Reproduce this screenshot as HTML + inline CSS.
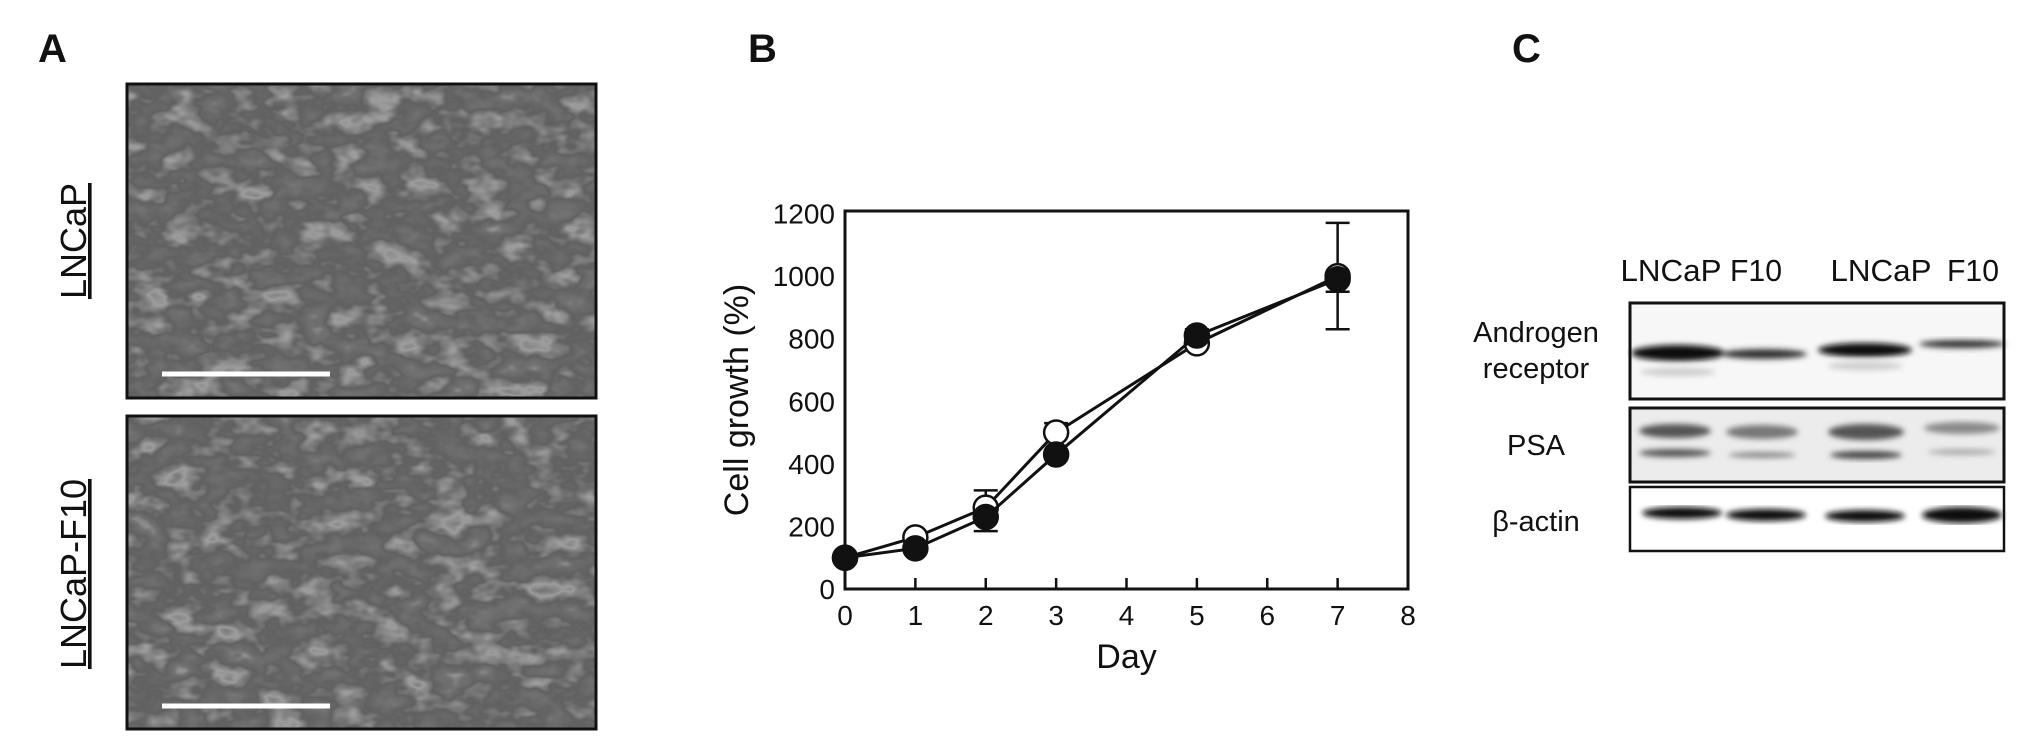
<!DOCTYPE html>
<html><head><meta charset="utf-8"><style>
html,body{margin:0;padding:0;background:#fff}
svg{display:block}
text{font-family:"Liberation Sans",Arial,sans-serif;fill:#111}
</style></head><body>
<svg id="fig" width="2031" height="756" viewBox="0 0 2031 756" xmlns="http://www.w3.org/2000/svg">
<defs>
<filter id="cells" x="0" y="0" width="100%" height="100%" color-interpolation-filters="sRGB">
<feTurbulence type="fractalNoise" baseFrequency="0.03 0.045" numOctaves="3" seed="4" result="n"/>
<feColorMatrix type="matrix" in="n" result="g" values="0.33 0.33 0.33 0 0  0.33 0.33 0.33 0 0  0.33 0.33 0.33 0 0  0 0 0 0 1"/>
<feComponentTransfer in="g"><feFuncR type="table" tableValues="0.25 0.42 0.62 0.38 0.45 0.7 0.4"/><feFuncG type="table" tableValues="0.25 0.42 0.62 0.38 0.45 0.7 0.4"/><feFuncB type="table" tableValues="0.25 0.42 0.62 0.38 0.45 0.7 0.4"/></feComponentTransfer>
</filter>
<filter id="blur"><feGaussianBlur stdDeviation="3"/></filter>
</defs>

<!-- Panel A -->
<text x="38" y="62" font-size="40" font-weight="bold">A</text>
<g>
<rect x="127" y="84" width="469" height="314" fill="#6f6f6f" filter="url(#cells)"/>
<rect x="127" y="84" width="469" height="314" fill="none" stroke="#111" stroke-width="3"/>
<line x1="162" y1="374" x2="330" y2="374" stroke="#fff" stroke-width="5"/>
</g>
<g>
<rect x="127" y="416" width="469" height="313" fill="#6f6f6f" filter="url(#cells)"/>
<rect x="127" y="416" width="469" height="313" fill="none" stroke="#111" stroke-width="3"/>
<line x1="162" y1="706" x2="330" y2="706" stroke="#fff" stroke-width="5"/>
</g>
<text transform="translate(86,241) rotate(-90)" text-anchor="middle" font-size="36" text-decoration="underline">LNCaP</text>
<text transform="translate(86,574) rotate(-90)" text-anchor="middle" font-size="36" text-decoration="underline">LNCaP-F10</text>

<!-- Panel B -->
<text x="748" y="62" font-size="40" font-weight="bold">B</text>
<g id="chart"></g>

<!-- Panel C -->
<text x="1512" y="62" font-size="40" font-weight="bold">C</text>
<g>
<text x="1671" y="281" text-anchor="middle" font-size="31" textLength="101" lengthAdjust="spacingAndGlyphs">LNCaP</text>
<text x="1756" y="281" text-anchor="middle" font-size="31" textLength="52" lengthAdjust="spacingAndGlyphs">F10</text>
<text x="1881" y="281" text-anchor="middle" font-size="31" textLength="101" lengthAdjust="spacingAndGlyphs">LNCaP</text>
<text x="1973" y="281" text-anchor="middle" font-size="31" textLength="52" lengthAdjust="spacingAndGlyphs">F10</text>
<text x="1536" y="342" text-anchor="middle" font-size="29">Androgen</text>
<text x="1536" y="378" text-anchor="middle" font-size="29">receptor</text>
<text x="1536" y="455" text-anchor="middle" font-size="29">PSA</text>
<text x="1536" y="531" text-anchor="middle" font-size="29">β-actin</text>

<g>
<rect x="1630" y="303" width="374" height="96" fill="#f7f7f7"/>
<g filter="url(#blur)">
<ellipse cx="1678" cy="353" rx="47" ry="8" fill="#111"/>
<ellipse cx="1764" cy="354" rx="43" ry="5" fill="#333"/>
<ellipse cx="1865" cy="350" rx="47" ry="7" fill="#111"/>
<ellipse cx="1962" cy="344" rx="43" ry="4" fill="#333"/>
<ellipse cx="1678" cy="372" rx="38" ry="4" fill="#ccc"/>
<ellipse cx="1865" cy="366" rx="38" ry="4" fill="#ccc"/>
</g>
<rect x="1630" y="303" width="374" height="96" fill="none" stroke="#111" stroke-width="3"/>
</g>
<g>
<rect x="1630" y="408" width="374" height="74" fill="#ececec"/>
<g filter="url(#blur)">
<ellipse cx="1675" cy="431" rx="36" ry="7" fill="#555"/>
<ellipse cx="1762" cy="432" rx="36" ry="7" fill="#777"/>
<ellipse cx="1866" cy="432" rx="38" ry="8" fill="#555"/>
<ellipse cx="1962" cy="428" rx="38" ry="6" fill="#888"/>
<ellipse cx="1675" cy="453" rx="36" ry="4" fill="#555"/>
<ellipse cx="1762" cy="455" rx="34" ry="3" fill="#888"/>
<ellipse cx="1866" cy="455" rx="36" ry="4" fill="#444"/>
<ellipse cx="1962" cy="452" rx="34" ry="3" fill="#aaa"/>
</g>
<rect x="1630" y="408" width="374" height="74" fill="none" stroke="#111" stroke-width="3"/>
</g>
<g>
<rect x="1630" y="487" width="374" height="64" fill="#fff"/>
<g filter="url(#blur)">
<ellipse cx="1682" cy="513" rx="40" ry="6" fill="#111"/>
<ellipse cx="1766" cy="515" rx="40" ry="6" fill="#111"/>
<ellipse cx="1865" cy="516" rx="40" ry="6" fill="#111"/>
<ellipse cx="1962" cy="515" rx="40" ry="8" fill="#111"/>
</g>
<rect x="1630" y="487" width="374" height="64" fill="none" stroke="#111" stroke-width="2.5"/>
</g>
</g>
</svg>
<script>
var days = [0, 1, 2, 3, 5, 7];
var openVals = [100, 165, 260, 500, 785, 1000];
var openErr = [0, 10, 55, 30, 45, 170];
var closedVals = [100, 130, 230, 430, 810, 990];
var closedErr = [0, 10, 45, 15, 10, 40];
var xTicks = [0, 1, 2, 3, 4, 5, 6, 7, 8];
var yTicks = [0, 200, 400, 600, 800, 1000, 1200];

var NS = "http://www.w3.org/2000/svg";
var L = 845, R = 1408, T = 211, B = 589;
function xs(v){ return L + (v / 8) * (R - L); }
function ys(v){ return B - (v / 1200) * (B - 213.5); }
var g = document.getElementById('chart');
function mk(tag, attrs){ var e = document.createElementNS(NS, tag); for (var k in attrs) e.setAttribute(k, attrs[k]); g.appendChild(e); return e; }

var frame = mk('rect', {x:L, y:T, width:R-L, height:B-T, fill:'none', stroke:'#111', 'stroke-width':3});



xTicks.forEach(function(t){
  var tk = mk('line', {x1:xs(t), x2:xs(t), y1:B, y2:B-11, stroke:'#111', 'stroke-width':2.5});
  
  
  var lb = mk('text', {x:xs(t), y:B+36, 'text-anchor':'middle', 'font-size':28});
  lb.textContent = t;
  
  
});
yTicks.forEach(function(t){
  var lb = mk('text', {x:L-10, y:ys(t)+10, 'text-anchor':'end', 'font-size':28});
  lb.textContent = t;
  
  
});
var xt = mk('text', {x:(L+R)/2, y:B+79, 'text-anchor':'middle', 'font-size':34});
xt.textContent = 'Day';


var yt = mk('text', {transform:'translate(748,' + ((T+B)/2) + ') rotate(-90)', 'text-anchor':'middle', 'font-size':34});
yt.textContent = 'Cell growth (%)';



function series(vals, errs, fill, name, dir){
  var pts = days.map(function(d, i){ return xs(d) + ',' + ys(vals[i]); }).join(' ');
  var pl = mk('polyline', {points:pts, fill:'none', stroke:'#111', 'stroke-width':3});
  
  
  days.forEach(function(d, i){
    if (errs[i] > 0) {
      var x = xs(d), y1 = ys(vals[i]), y2 = ys(vals[i] + dir * errs[i]);
      if (name === 'open' && i === 5) { y1 = ys(vals[i] - errs[i]); }
      var e = mk('line', {x1:x, x2:x, y1:y1, y2:y2, stroke:'#111', 'stroke-width':2.5});
      
      
      var c = mk('line', {x1:x-12, x2:x+12, y1:y2, y2:y2, stroke:'#111', 'stroke-width':2.5});
      
      
      if (name === 'open' && i === 5) {
        var c2 = mk('line', {x1:x-12, x2:x+12, y1:y1, y2:y1, stroke:'#111', 'stroke-width':2.5});
        
        
      }
    }
  });
  days.forEach(function(d, i){
    var m = mk('circle', {cx:xs(d), cy:ys(vals[i]), r:12, fill:fill, stroke:'#111', 'stroke-width':2.5});
    
    
  });
}
series(openVals, openErr, '#fff', 'open', 1);
series(closedVals, closedErr, '#111', 'closed', -1);
</script>
</body></html>
